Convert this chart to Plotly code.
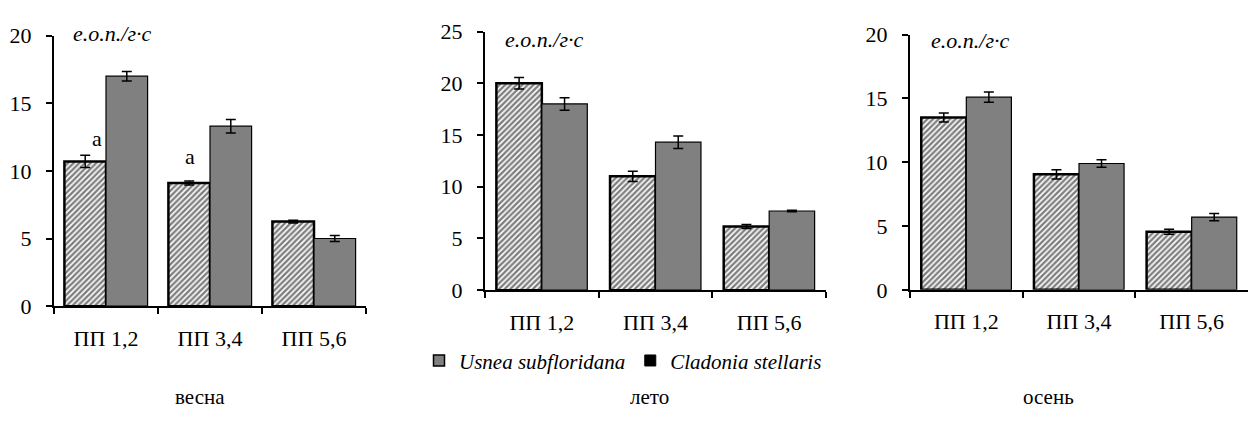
import plotly.graph_objects as go

categories = ["ПП 1,2", "ПП 3,4", "ПП 5,6"]

spring_usnea = [10.7, 9.1, 6.25]
spring_usnea_err = [0.45, 0.15, 0.1]
spring_clad = [17.0, 13.3, 5.0]
spring_clad_err = [0.35, 0.5, 0.22]

summer_usnea = [20.0, 11.0, 6.15]
summer_usnea_err = [0.55, 0.5, 0.2]
summer_clad = [18.0, 14.3, 7.65]
summer_clad_err = [0.6, 0.6, 0.07]

autumn_usnea = [13.5, 9.05, 4.55]
autumn_usnea_err = [0.35, 0.37, 0.2]
autumn_clad = [15.1, 9.9, 5.7]
autumn_clad_err = [0.4, 0.3, 0.28]

season_titles = ["весна", "лето", "осень"]
y_max = [20, 25, 20]
unit_label = "е.о.п./г·с"
series_names = ["Usnea subfloridana", "Cladonia stellaris"]

FONT = "Liberation Serif"

panels = [
    (spring_usnea, spring_usnea_err, spring_clad, spring_clad_err),
    (summer_usnea, summer_usnea_err, summer_clad, summer_clad_err),
    (autumn_usnea, autumn_usnea_err, autumn_clad, autumn_clad_err),
]

W, H = 1250, 437
# pixel boxes of plot areas: (x0, x1, ytop, ybottom)
boxes = [(54, 366, 25, 312), (485, 826, 20.7, 295), (910, 1248, 24, 294.7)]

fig = go.Figure()

for i, (u, ue, c, ce) in enumerate(panels):
    n = "" if i == 0 else str(i + 1)
    xa, ya = "x" + n, "y" + n
    fig.add_trace(go.Bar(
        x=categories, y=u, xaxis=xa, yaxis=ya, showlegend=False,
        name=series_names[0],
        marker=dict(color="white", line=dict(color="black", width=2.5),
                    pattern=dict(shape="/", fgcolor="black", bgcolor="white",
                                 size=4, solidity=0.6)),
        error_y=dict(type="data", array=ue, visible=True, color="black",
                     thickness=1.5, width=5),
    ))
    fig.add_trace(go.Bar(
        x=categories, y=c, xaxis=xa, yaxis=ya, showlegend=False,
        name=series_names[1],
        marker=dict(color="#808080", line=dict(color="black", width=1.2)),
        error_y=dict(type="data", array=ce, visible=True, color="black",
                     thickness=1.5, width=5),
    ))
    x0, x1, yt, yb = boxes[i]
    xkey = "xaxis" + n
    ykey = "yaxis" + n
    fig.update_layout(**{
        xkey: dict(domain=[x0 / W, x1 / W], anchor=ya, type="category",
                   range=[-0.5, 2.5], showline=True, linecolor="black",
                   linewidth=2, ticks="outside", tickson="boundaries",
                   ticklen=6, tickwidth=2, tickcolor="black",
                   ticklabelstandoff=11,
                   tickfont=dict(family=FONT, size=22, color="black"),
                   showgrid=False, zeroline=False, fixedrange=True),
        ykey: dict(domain=[1 - yb / H, 1 - yt / H], anchor=xa,
                   range=[0, y_max[i]], dtick=5, showline=True,
                   linecolor="black", linewidth=2, ticks="outside",
                   ticklen=6, tickwidth=2, tickcolor="black",
                   ticklabelstandoff=10,
                   tickfont=dict(family=FONT, size=22, color="black"),
                   showgrid=False, zeroline=False, fixedrange=True),
    })

# legend entries (dummy traces)
fig.add_trace(go.Scatter(x=[None], y=[None], xaxis="x2", yaxis="y2", mode="markers",
                         name=series_names[0],
                         marker=dict(symbol="square", size=11, color="#808080",
                                     line=dict(color="black", width=1.5))))
fig.add_trace(go.Scatter(x=[None], y=[None], xaxis="x2", yaxis="y2", mode="markers",
                         name=series_names[1],
                         marker=dict(symbol="square", size=11, color="black",
                                     line=dict(color="black", width=1))))

annotations = []
unit_pos = [(112, 23), (544, 29), (970, 30)]
for (px, py) in unit_pos:
    annotations.append(dict(xref="paper", yref="paper", x=px / W, y=1 - py / H,
                            text=unit_label, showarrow=False, xanchor="center",
                            yanchor="middle",
                            font=dict(family=FONT, size=22, color="black", style="italic")))
title_pos = [200, 649, 1048]
for t, px in zip(season_titles, title_pos):
    annotations.append(dict(xref="paper", yref="paper", x=px / W, y=1 - 408 / H,
                            text=t, showarrow=False, xanchor="center", yanchor="middle",
                            font=dict(family=FONT, size=21, color="black")))
# significance letters on spring panel
a_offsets = [(0, -0.09, 2), (1, -0.19, 10)]
for idx, dx, ys in a_offsets:
    annotations.append(dict(xref="x", yref="y", x=idx + dx,
                            y=spring_usnea[idx] + spring_usnea_err[idx],
                            yshift=ys, text="a", showarrow=False,
                            xanchor="center", yanchor="bottom",
                            font=dict(family=FONT, size=22, color="black")))

fig.update_layout(
    width=W, height=H, margin=dict(l=0, r=0, t=0, b=0),
    paper_bgcolor="white", plot_bgcolor="white",
    font=dict(family=FONT, color="black"),
    barmode="group", bargap=0.2, bargroupgap=0,
    showlegend=True,
    legend=dict(orientation="h", x=419 / W, y=1 - 370 / H, xanchor="left",
                yanchor="middle", font=dict(family=FONT, size=21, color="black",
                                            style="italic"),
                itemwidth=30, tracegroupgap=0, bgcolor="rgba(0,0,0,0)"),
    annotations=annotations,
)

fig.write_html("out.html")
